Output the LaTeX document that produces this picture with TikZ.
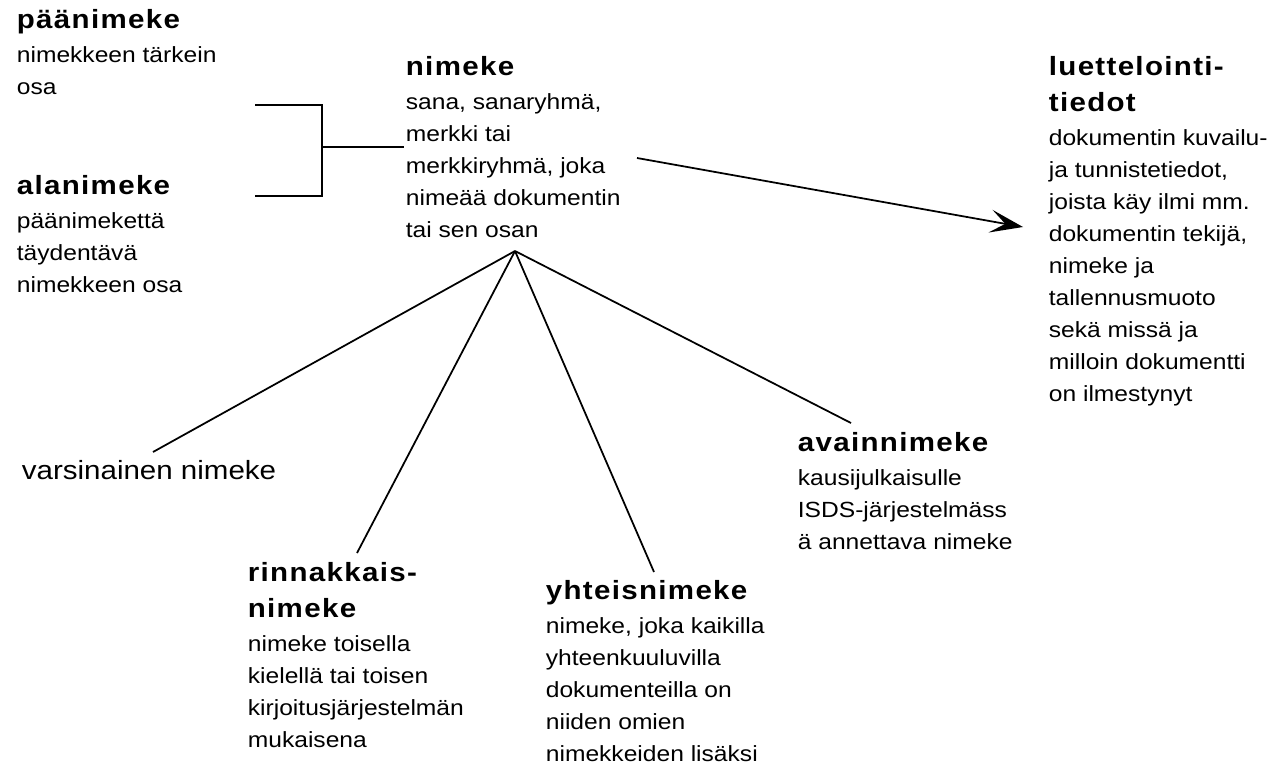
\documentclass[tikz,border=0pt]{standalone}
\usepackage{fontspec}
\setmainfont{Liberation Sans}[FakeStretch=1.12]
\usetikzlibrary{arrows.meta,positioning}

\newcommand\bodyfont{\fontsize{12.5pt}{18.2pt}\selectfont}
\newcommand\hd{\fontsize{15pt}{18.2pt}\selectfont\bfseries\addfontfeature{LetterSpace=5}}

\begin{document}
\begin{tikzpicture}[x=0.02cm, y=-0.02cm, line width=1pt,
	blk/.style={anchor=north west, align=left, inner sep=0pt, font=\bodyfont},
	>={Stealth[length=6.6mm, width=4.6mm, inset=3mm]}]
	\useasboundingbox (0,0) rectangle (1270,768);

	% text blocks
	\node[blk] (paa)   at (16,9)    {{\hd päänimeke}\\[1pt] nimekkeen tärkein\\ osa};
	\node[blk] (ala)   at (16,175)  {{\hd alanimeke}\\[1pt] päänimekettä\\ täydentävä\\ nimekkeen osa};
	\node[blk] (nim)   at (405,56)  {{\hd nimeke}\\[1pt] sana, sanaryhmä,\\ merkki tai\\ merkkiryhmä, joka\\ nimeää dokumentin\\ tai sen osan};
	\node[blk] (luet)  at (1048,56) {{\hd luettelointi-}\\[2pt] {\hd tiedot}\\[1pt] dokumentin kuvailu-\\ ja tunnistetiedot,\\ joista käy ilmi mm.\\ dokumentin tekijä,\\ nimeke ja\\ tallennusmuoto\\ sekä missä ja\\ milloin dokumentti\\ on ilmestynyt};
	\node[blk] (avain) at (797,432) {{\hd avainnimeke}\\[1pt] kausijulkaisulle\\ ISDS-järjestelmäss\\ ä annettava nimeke};
	\node[blk] (rinn)  at (247,562) {{\hd rinnakkais-}\\[2pt] {\hd nimeke}\\[1pt] nimeke toisella\\ kielellä tai toisen\\ kirjoitusjärjestelmän\\ mukaisena};
	\node[blk] (yht)   at (545,580) {{\hd yhteisnimeke}\\[1pt] nimeke, joka kaikilla\\ yhteenkuuluvilla\\ dokumenteilla on\\ niiden omien\\ nimekkeiden lisäksi};
	\node[anchor=base west, inner sep=0pt, font=\fontsize{15pt}{18pt}\selectfont] (var) at (21,479) {varsinainen nimeke};

	% bracket
	\coordinate (br-t) at (255,105);
	\coordinate (br-b) at (255,196);
	\coordinate (br-m) at (322,147);
	\coordinate (br-e) at (404,147);
	\draw (br-t) -| (br-m) |- (br-b);
	\draw (br-m) -- (br-e);

	% fan
	\coordinate (fan) at (515,251);
	\coordinate (fan-var)   at (153,452);
	\coordinate (fan-rinn)  at (357,553);
	\coordinate (fan-yht)   at (654,572);
	\coordinate (fan-avain) at (851,423);
	\draw (fan) -- (fan-var);
	\draw (fan) -- (fan-rinn);
	\draw (fan) -- (fan-yht);
	\draw (fan) -- (fan-avain);

	% arrow
	\coordinate (ar-s) at (637,158);
	\coordinate (ar-e) at (1023,227);
	\draw[->] (ar-s) -- (ar-e);
\end{tikzpicture}
\end{document}
